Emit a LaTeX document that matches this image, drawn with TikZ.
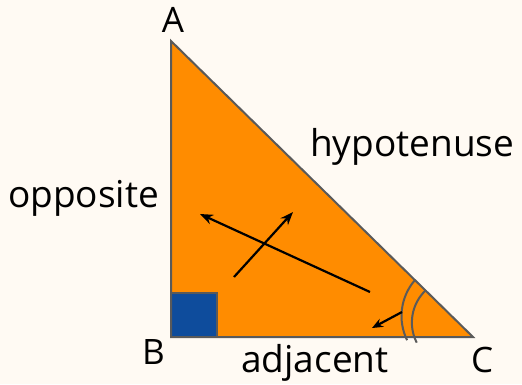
\documentclass[tikz,border=0pt]{standalone}
\usepackage{fontspec}
\setmainfont{Open Sans}
\usetikzlibrary{arrows.meta}
\definecolor{bgcol}{RGB}{255,250,243}
\definecolor{tri}{RGB}{255,140,0}
\definecolor{edge}{RGB}{90,90,90}
\definecolor{sq}{RGB}{14,76,156}
\tikzset{
  lbl/.style={inner sep=0pt, anchor=base west, font=\fontsize{37}{44}\selectfont},
  vlbl/.style={inner sep=0pt, anchor=base west, font=\fontsize{35}{42}\selectfont},
  arr/.style={line width=2.2pt, -{Stealth[length=13pt,width=10pt]}},
  anglearc/.style={draw=edge, line width=2pt},
}
\begin{document}
\begin{tikzpicture}[x=1pt,y=-1pt]
\fill[bgcol] (0,0) rectangle (522,384);
\useasboundingbox (0,0) rectangle (522,384);
\coordinate (vA) at (171,41);
\coordinate (vB) at (171,337);
\coordinate (vC) at (473,337);
\fill[tri] (vA) -- (vB) -- (vC) -- cycle;
\draw[sq, fill=sq, draw=edge, line width=1.5pt] (171,293) rectangle (217,337);
\draw[edge, line width=2pt, line join=miter] (vA) -- (vB) -- (vC) -- cycle;
% angle arcs
\draw[anglearc] (415,280) arc[start angle=221, end angle=154, radius=55];
\draw[anglearc] (426,290) arc[start angle=227, end angle=153, radius=44.4];
% arrows
\coordinate (a1s) at (370,292);
\coordinate (a1e) at (200,214);
\coordinate (a2s) at (234,277);
\coordinate (a2e) at (293,212);
\coordinate (a3s) at (402,312);
\coordinate (a3e) at (372,328);
\draw[arr] (a1s) -- (a1e);
\draw[arr] (a2s) -- (a2e);
\draw[arr, -{Stealth[length=11pt,width=9pt]}] (a3s) -- (a3e);
% labels
\node[vlbl, anchor=base] (A) at (173,32) {A};
\node[vlbl] (B) at (142,364) {B};
\node[vlbl] (C) at (471,372) {C};
\node[lbl] (opp) at (8,207) {opposite};
\node[lbl] (hyp) at (310,156) {hypotenuse};
\node[lbl] (adj) at (241,372) {adjacent};
\end{tikzpicture}
\end{document}
